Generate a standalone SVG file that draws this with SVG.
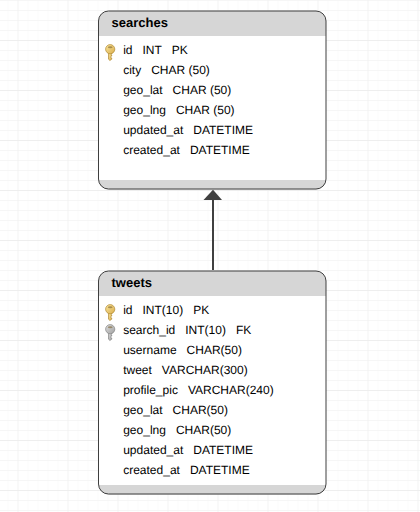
<svg xmlns="http://www.w3.org/2000/svg" width="420" height="512" viewBox="0 0 420 512">
<style>
.t{font-family:"Liberation Sans",Arial,sans-serif;font-size:12px;fill:#000;white-space:pre;text-rendering:geometricPrecision}
.h{font-family:"Liberation Sans",Arial,sans-serif;font-size:13px;font-weight:bold;fill:#000;text-rendering:geometricPrecision}
.b{fill:none;stroke:#3f3f3f;stroke-width:1}
.band{fill:#d6d6d6}
</style>
<defs>
<pattern id="g" x="7.5" y="0" width="10" height="10" patternUnits="userSpaceOnUse"><path d="M0 0V10M0 0.5H10" stroke="#f6f6f6" stroke-width="1" fill="none"/></pattern>
<pattern id="G" x="17.5" y="0" width="50" height="50" patternUnits="userSpaceOnUse"><path d="M0 0V50M0 40.5H50" stroke="#eeeeee" stroke-width="1" fill="none"/></pattern>
<linearGradient id="gold" x1="0" y1="0" x2="1" y2="1"><stop offset="0" stop-color="#fbe69a"/><stop offset="1" stop-color="#d9ad4e"/></linearGradient>
<linearGradient id="grey" x1="0" y1="0" x2="1" y2="1"><stop offset="0" stop-color="#dedede"/><stop offset="1" stop-color="#a0a0a0"/></linearGradient>
<g id="k" stroke-width="0.700"><path d="M-1.700 8V15.200L-0.300 16.500L1.500 15.200V14L0.600 13.500V12.600L1.500 12V11L0.800 10.500L1.500 10V8Z"/><circle cx="0" cy="5.200" r="4.600"/><ellipse cx="0" cy="3.200" rx="2.400" ry="1" fill="#7a6230" stroke="none" opacity="0.600"/></g>
</defs>
<rect width="420" height="512" fill="#fff"/>
<rect width="420" height="512" fill="url(#g)"/>
<rect width="420" height="512" fill="url(#G)"/>
<g id="connectors">
<path d="M213 270V198" fill="none" stroke="#404040" stroke-width="2"/>
<path d="M203.500 200L213 189.700L222 200Z" fill="#404040"/>
</g>
<g id="searches">
<path d="M98.500 21a10 10 0 0 1 10-10H316a10 10 0 0 1 10 10V179a10 10 0 0 1-10 10H108.500a10 10 0 0 1-10-10Z" fill="#fff"/>
<path class="band" d="M98.500 36V21a10 10 0 0 1 10-10H316a10 10 0 0 1 10 10V36Z"/>
<path class="band" d="M98.500 180H326a10 10 0 0 1-10 9.500H108.500a10 10 0 0 1-10-9.500Z"/>
<path class="b" d="M98.500 21a10 10 0 0 1 10-10H316a10 10 0 0 1 10 10V179a10 10 0 0 1-10 10H108.500a10 10 0 0 1-10-10Z"/>
<text class="h" x="111.500" y="27">searches</text>
<use href="#k" x="110.200" y="44" fill="url(#gold)" stroke="#b08a35"/>
<text class="t" x="123.200" y="54">id   INT   PK</text>
<text class="t" x="123.200" y="74">city   CHAR (50)</text>
<text class="t" x="123.200" y="94">geo_lat   CHAR (50)</text>
<text class="t" x="123.200" y="114">geo_lng   CHAR (50)</text>
<text class="t" x="123.200" y="134">updated_at   DATETIME</text>
<text class="t" x="123.200" y="154">created_at   DATETIME</text>
</g>
<g id="tweets">
<path d="M98.500 281a10 10 0 0 1 10-10H316a10 10 0 0 1 10 10V484a10 10 0 0 1-10 10H108.500a10 10 0 0 1-10-10Z" fill="#fff"/>
<path class="band" d="M98.500 296V281a10 10 0 0 1 10-10H316a10 10 0 0 1 10 10V296Z"/>
<path class="band" d="M98.500 485H326a10 10 0 0 1-10 9.500H108.500a10 10 0 0 1-10-9.500Z"/>
<path class="b" d="M98.500 281a10 10 0 0 1 10-10H316a10 10 0 0 1 10 10V484a10 10 0 0 1-10 10H108.500a10 10 0 0 1-10-10Z"/>
<text class="h" x="111.500" y="287">tweets</text>
<use href="#k" x="110.200" y="304" fill="url(#gold)" stroke="#b08a35"/>
<use href="#k" x="110.200" y="324" fill="url(#grey)" stroke="#858585"/>
<text class="t" x="123.200" y="314">id   INT(10)   PK</text>
<text class="t" x="123.200" y="334">search_id   INT(10)   FK</text>
<text class="t" x="123.200" y="354">username   CHAR(50)</text>
<text class="t" x="123.200" y="374">tweet   VARCHAR(300)</text>
<text class="t" x="123.200" y="394">profile_pic   VARCHAR(240)</text>
<text class="t" x="123.200" y="414">geo_lat   CHAR(50)</text>
<text class="t" x="123.200" y="434">geo_lng   CHAR(50)</text>
<text class="t" x="123.200" y="454">updated_at   DATETIME</text>
<text class="t" x="123.200" y="474">created_at   DATETIME</text>
</g>
</svg>
